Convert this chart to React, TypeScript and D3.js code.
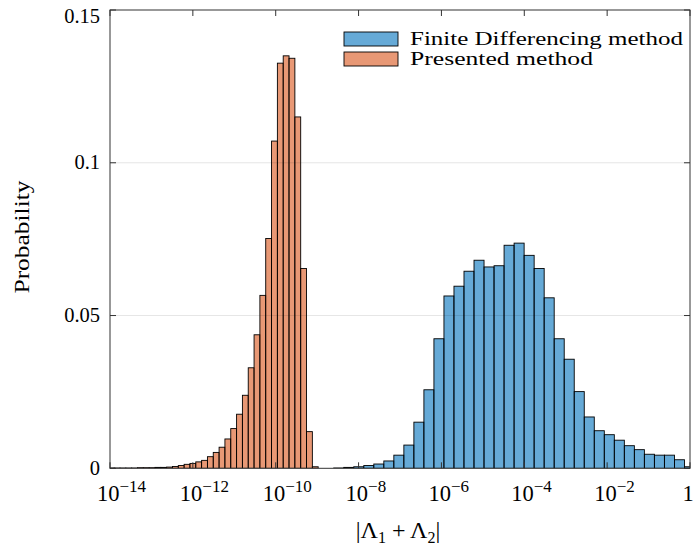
import { useEffect, useRef } from 'react'
import * as d3 from 'd3'

// |Λ1 + Λ2| histograms, probability per bin, bins are uniform in log10
const fdStart = -8.6     // log10 of first bin edge, finite differencing
const fdWidth = 0.2419   // bin width in decades
const fdProb = [
  0.0001, 0.0003, 0.0005, 0.0009, 0.0014, 0.0024, 0.0043, 0.0076,
  0.0151, 0.0257, 0.0424, 0.0564, 0.0596, 0.0645, 0.0681, 0.0659,
  0.0663, 0.0730, 0.0737, 0.0697, 0.0654, 0.0558, 0.0424, 0.0357,
  0.0251, 0.0168, 0.0123, 0.0110, 0.0092, 0.0074, 0.0061, 0.0046,
  0.0043, 0.0043, 0.0028, 0.0005,
]

const pmStart = -14.04   // presented method
const pmWidth = 0.1407
const pmProb = [
  0.0001, 0.0001, 0.0001, 0.0001, 0.0001, 0.0002, 0.0002, 0.0002, 0.0003,
  0.0003, 0.0004, 0.0006, 0.0009, 0.0013, 0.0016, 0.0021, 0.0026, 0.0038,
  0.0052, 0.0069, 0.0096, 0.0130, 0.0177, 0.0239, 0.0329, 0.0437, 0.0566,
  0.0752, 0.1071, 0.1326, 0.1350, 0.1342, 0.1150, 0.0654, 0.0120, 0.0005,
]

const xExps = [-14, -12, -10, -8, -6, -4, -2, 0]
const yTicks = [0, 0.05, 0.1, 0.15]
const yTickLabels = ['0', '0.05', '0.1', '0.15']
const seriesNames = ['Finite Differencing method', 'Presented method']
const seriesColors = ['#0072BD', '#D95319']

const FONT = '"Liberation Serif", "Times New Roman", serif'

export default function App() {
  const svgRef = useRef<SVGSVGElement>(null)

  useEffect(() => {
    if (!svgRef.current) return
    const svg = d3.select(svgRef.current)
    svg.selectAll('*').remove()

    const L = 110, R = 690, T = 10, B = 468.3
    const x = d3.scaleLog().domain([1e-14, 1]).range([L, R])
    const y = d3.scaleLinear().domain([0, 0.15]).range([B, T])

    const bins = (start: number, w: number, probs: number[]) =>
      probs.map((p, i) => ({ x0: 10 ** (start + i * w), x1: 10 ** (start + (i + 1) * w), p }))

    svg.append('defs').append('clipPath').attr('id', 'plotclip')
      .append('rect').attr('x', L).attr('y', T).attr('width', R - L).attr('height', B - T)

    const plot = svg.append('g').attr('clip-path', 'url(#plotclip)')

    const drawHist = (data: { x0: number, x1: number, p: number }[], color: string) => {
      plot.append('g').selectAll('rect')
        .data(data)
        .join('rect')
        .attr('x', d => x(d.x0))
        .attr('width', d => x(d.x1) - x(d.x0))
        .attr('y', d => y(d.p))
        .attr('height', d => y(0) - y(d.p))
        .attr('fill', color)
        .attr('fill-opacity', 0.6)
        .attr('stroke', '#000')
        .attr('stroke-width', 0.9)
    }
    drawHist(bins(fdStart, fdWidth, fdProb), seriesColors[0])
    drawHist(bins(pmStart, pmWidth, pmProb), seriesColors[1])

    // grid on top (matlab layer top)
    svg.append('g').selectAll('line')
      .data(yTicks.filter(t => t > 0 && t < 0.15))
      .join('line')
      .attr('x1', L).attr('x2', R)
      .attr('y1', d => y(d)).attr('y2', d => y(d))
      .attr('stroke', '#000').attr('stroke-opacity', 0.1).attr('stroke-width', 1)

    // box + ticks
    const ax = svg.append('g').attr('stroke', '#333').attr('stroke-width', 1).attr('fill', 'none')
    ax.append('rect').attr('x', L).attr('y', T).attr('width', R - L).attr('height', B - T)
    const tk = 6
    xExps.forEach(e => {
      const px = x(10 ** e)
      ax.append('line').attr('x1', px).attr('x2', px).attr('y1', B).attr('y2', B - tk)
      ax.append('line').attr('x1', px).attr('x2', px).attr('y1', T).attr('y2', T + tk)
    })
    yTicks.forEach(t => {
      const py = y(t)
      ax.append('line').attr('x1', L).attr('x2', L + tk).attr('y1', py).attr('y2', py)
      ax.append('line').attr('x1', R).attr('x2', R - tk).attr('y1', py).attr('y2', py)
    })

    // x tick labels: "10" centred on the tick, exponent to the right
    const xl = svg.append('g').attr('font-family', FONT).attr('fill', '#000')
    xExps.forEach(e => {
      const px = x(10 ** e)
      if (e === 0) {
        xl.append('text').attr('x', px - 2).attr('y', 501)
          .attr('text-anchor', 'middle').attr('font-size', 22.5).text('1')
        return
      }
      const t = xl.append('text').attr('x', px - 13).attr('y', 501).attr('font-size', 22.5)
      t.append('tspan').text('10')
      t.append('tspan').attr('dy', -9).attr('font-size', 17).text(`\u2212${-e}`)
    })

    // y tick labels
    const yl = svg.append('g').attr('font-family', FONT).attr('fill', '#000')
      .attr('font-size', 20.5).attr('text-anchor', 'end')
    yTicks.forEach((t, i) => {
      yl.append('text').attr('x', 100)
        .attr('y', Math.max(y(t) + 6.5, T + 13))
        .text(yTickLabels[i])
    })

    // axis titles
    svg.append('text')
      .attr('transform', 'translate(29,237) rotate(-90)')
      .attr('text-anchor', 'middle')
      .attr('font-family', FONT).attr('font-size', 21)
      .attr('textLength', 113).attr('lengthAdjust', 'spacingAndGlyphs')
      .text('Probability')

    const xt = svg.append('text')
      .attr('x', 398).attr('y', 538)
      .attr('text-anchor', 'middle')
      .attr('font-family', FONT).attr('font-size', 24)
    xt.append('tspan').text('|\u039B')
    xt.append('tspan').attr('dy', 5).attr('font-size', 16).text('1')
    xt.append('tspan').attr('dy', -5).text(' + \u039B')
    xt.append('tspan').attr('dy', 5).attr('font-size', 16).text('2')
    xt.append('tspan').attr('dy', -5).text('|')

    // legend
    const lg = svg.append('g')
    const legendLen = [273, 183]
    seriesNames.forEach((name, i) => {
      const yy = 32 + i * 20
      lg.append('rect').attr('x', 344).attr('y', yy).attr('width', 54).attr('height', 14)
        .attr('fill', seriesColors[i]).attr('fill-opacity', 0.6)
        .attr('stroke', '#000').attr('stroke-width', 0.9)
      lg.append('text').attr('x', 410).attr('y', 45 + i * 20)
        .attr('font-family', FONT).attr('font-size', 18.5)
        .attr('textLength', legendLen[i]).attr('lengthAdjust', 'spacingAndGlyphs')
        .text(name)
    })
  }, [])

  return (
    <svg ref={svgRef} width={695} height={548}
      style={{ position: 'absolute', left: 0, top: 0, background: '#fff', display: 'block' }} />
  )
}
